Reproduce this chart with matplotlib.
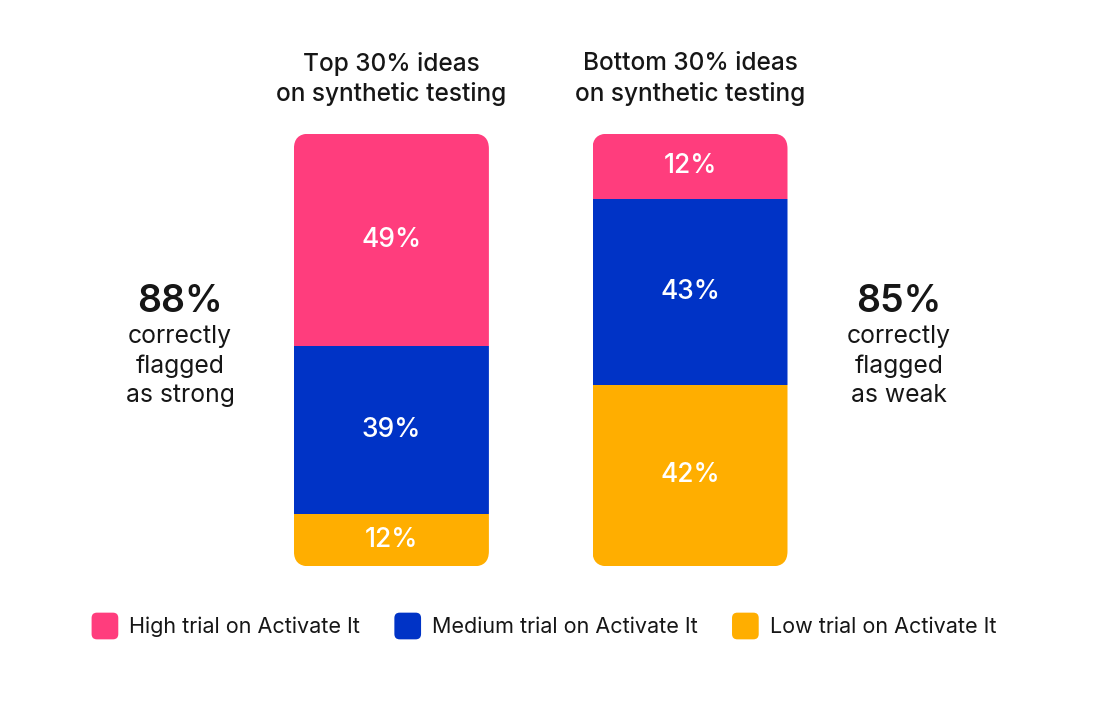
import matplotlib
matplotlib.use("Agg")
import matplotlib.pyplot as plt
from matplotlib.patches import FancyBboxPatch, Patch
from matplotlib.legend_handler import HandlerPatch

# ---- data ----
groups = ["Top 30% ideas\non synthetic testing", "Bottom 30% ideas\non synthetic testing"]
series = ["High trial on Activate It", "Medium trial on Activate It", "Low trial on Activate It"]
high = [49, 15]
medium = [39, 43]
low = [12, 42]
high_labels = ["49%", "12%"]
medium_labels = ["39%", "43%"]
low_labels = ["12%", "42%"]
side_big = ["88%", "85%"]
side_text = ["correctly\nflagged\nas strong", "correctly\nflagged\nas weak"]

colors = ["#FF3D7D", "#0033C6", "#FFAE00"]
text_dark = "#161616"

plt.rcParams['font.family'] = ['Inter', 'DejaVu Sans']

W, H, DPI = 1102, 710, 100
fig = plt.figure(figsize=(W / DPI, H / DPI), dpi=DPI)
ax = fig.add_axes([0, 0, 1, 1])
ax.set_axis_off()

# pixel mapping: bar centers at 391.4 px and 690 px; y=0 at 566.3 px, y=100 at 133.7 px
px_per_x = 298.6
x0_px = 391.4
ax.set_xlim(-x0_px / px_per_x, (W - x0_px) / px_per_x)
px_per_y = (566.3 - 133.7) / 100.0
ax.set_ylim(-(H - 566.3) / px_per_y, 100 + 133.7 / px_per_y)

xs = [0, 1]
width = 195 / px_per_x
radius_px = 15
rx = radius_px / px_per_x
ry = radius_px / px_per_y

for i, x in enumerate(xs):
    total = high[i] + medium[i] + low[i]
    clip = FancyBboxPatch((x - width / 2, 0), width, total,
                          boxstyle=f"round,pad=0,rounding_size={rx}",
                          mutation_aspect=ry / rx,
                          facecolor="none", edgecolor="none",
                          transform=ax.transData)
    ax.add_patch(clip)
    bottoms = [0, low[i], low[i] + medium[i]]
    vals = [low[i], medium[i], high[i]]
    cols = [colors[2], colors[1], colors[0]]
    labs = [low_labels[i], medium_labels[i], high_labels[i]]
    for b, v, c, lab in zip(bottoms, vals, cols, labs):
        bars = ax.bar(x, v, width=width, bottom=b, color=c, linewidth=0)
        for r in bars:
            r.set_clip_path(clip)
        ax.text(x, b + v / 2, lab, ha="center", va="center",
                color="white", fontsize=19, fontweight="medium")
    ax.text(x, total + (133.7 - 79) / px_per_y, groups[i], ha="center", va="center",
            color=text_dark, fontsize=17.6, fontweight="medium", linespacing=1.36)

# side annotations
side_x = [(180 - x0_px) / px_per_x, (899 - x0_px) / px_per_x]
big_y = (566.3 - 302) / px_per_y
small_y = (566.3 - 366) / px_per_y
for i in range(2):
    ax.text(side_x[i], big_y, side_big[i], ha="center", va="center",
            color=text_dark, fontsize=27, fontweight="semibold")
    ax.text(side_x[i], small_y, side_text[i], ha="center", va="center",
            color=text_dark, fontsize=17.8, linespacing=1.36)


class RoundSquareHandler(HandlerPatch):
    def create_artists(self, legend, orig_handle, xdescent, ydescent,
                       width, height, fontsize, trans):
        s = width
        cy = -ydescent + height / 2
        p = FancyBboxPatch((-xdescent, cy - s / 2), s, s,
                           boxstyle=f"round,pad=0,rounding_size={s*0.2}",
                           facecolor=orig_handle.get_facecolor(),
                           edgecolor="none", transform=trans)
        return [p]


handles = [Patch(facecolor=c) for c in colors]
leg = fig.legend(handles, series, loc="center", bbox_to_anchor=(544 / W, (H - 626) / H),
                 ncol=3, frameon=False, fontsize=15.5, handlelength=1.24, handleheight=1.24,
                 handletextpad=0.52, columnspacing=1.58,
                 handler_map={Patch: RoundSquareHandler()})
for t in leg.get_texts():
    t.set_color(text_dark)

fig.savefig("out.png", dpi=DPI, facecolor="white")
